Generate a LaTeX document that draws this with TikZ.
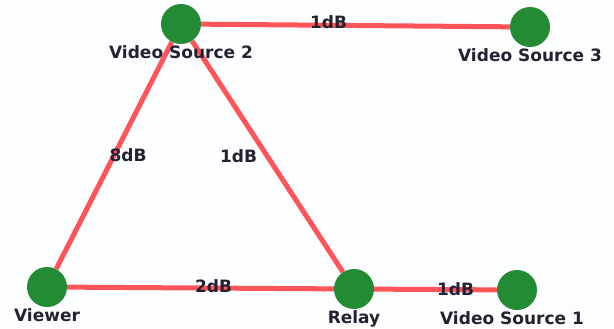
\documentclass[tikz,border=0pt]{standalone}
\usepackage{fontspec}
\setmainfont{DejaVu Sans}
\usepackage{xcolor}
\usepackage{tikz}
\usetikzlibrary{backgrounds}
\definecolor{nodegreen}{RGB}{34, 139, 52}
\definecolor{linkred}{RGB}{255, 85, 90}
\definecolor{textdark}{RGB}{34, 34, 51}
\definecolor{pagewhite}{RGB}{252, 253, 254}

\begin{document}
\begin{tikzpicture}[x=1pt, y=-1pt,
    peer/.style={circle, fill=nodegreen, minimum size=40pt, inner sep=0pt},
    link/.style={draw=linkred, line width=5pt},
    cost/.style={font=\bfseries\fontsize{17}{19}\selectfont, text=textdark, inner sep=0pt},
    every label/.style={font=\bfseries\fontsize{17}{19}\selectfont, text=textdark, inner sep=0pt},
    label distance=1pt]
    \useasboundingbox (0,0) rectangle (614,329);

    % peers
    \node[peer, label=below:Video Source 2] (vs2) at (181,24) {};
    \node[peer, label=below:Video Source 3] (vs3) at (530,27) {};
    \node[peer, label=below:Viewer] (viewer) at (47,287) {};
    \node[peer, label=below:Relay] (relay) at (354,289) {};
    \node[peer, label={[xshift=-5pt]below:Video Source 1}] (vs1) at (517,290) {};

    % links
    \begin{pgfonlayer}{background}
        \fill[pagewhite] (0,0) rectangle (614,329);
        \draw[link] (vs2) -- node[cost, xshift=-27pt, yshift=3pt] {1dB} (vs3);
        \draw[link] (viewer) -- node[cost, xshift=14pt] {8dB} (vs2);
        \draw[link] (vs2) -- node[cost, xshift=-29pt] {1dB} (relay);
        \draw[link] (viewer) -- node[cost, xshift=13pt, yshift=2pt] {2dB} (relay);
        \draw[link] (relay) -- node[cost, xshift=20pt] {1dB} (vs1);
    \end{pgfonlayer}
\end{tikzpicture}
\end{document}
